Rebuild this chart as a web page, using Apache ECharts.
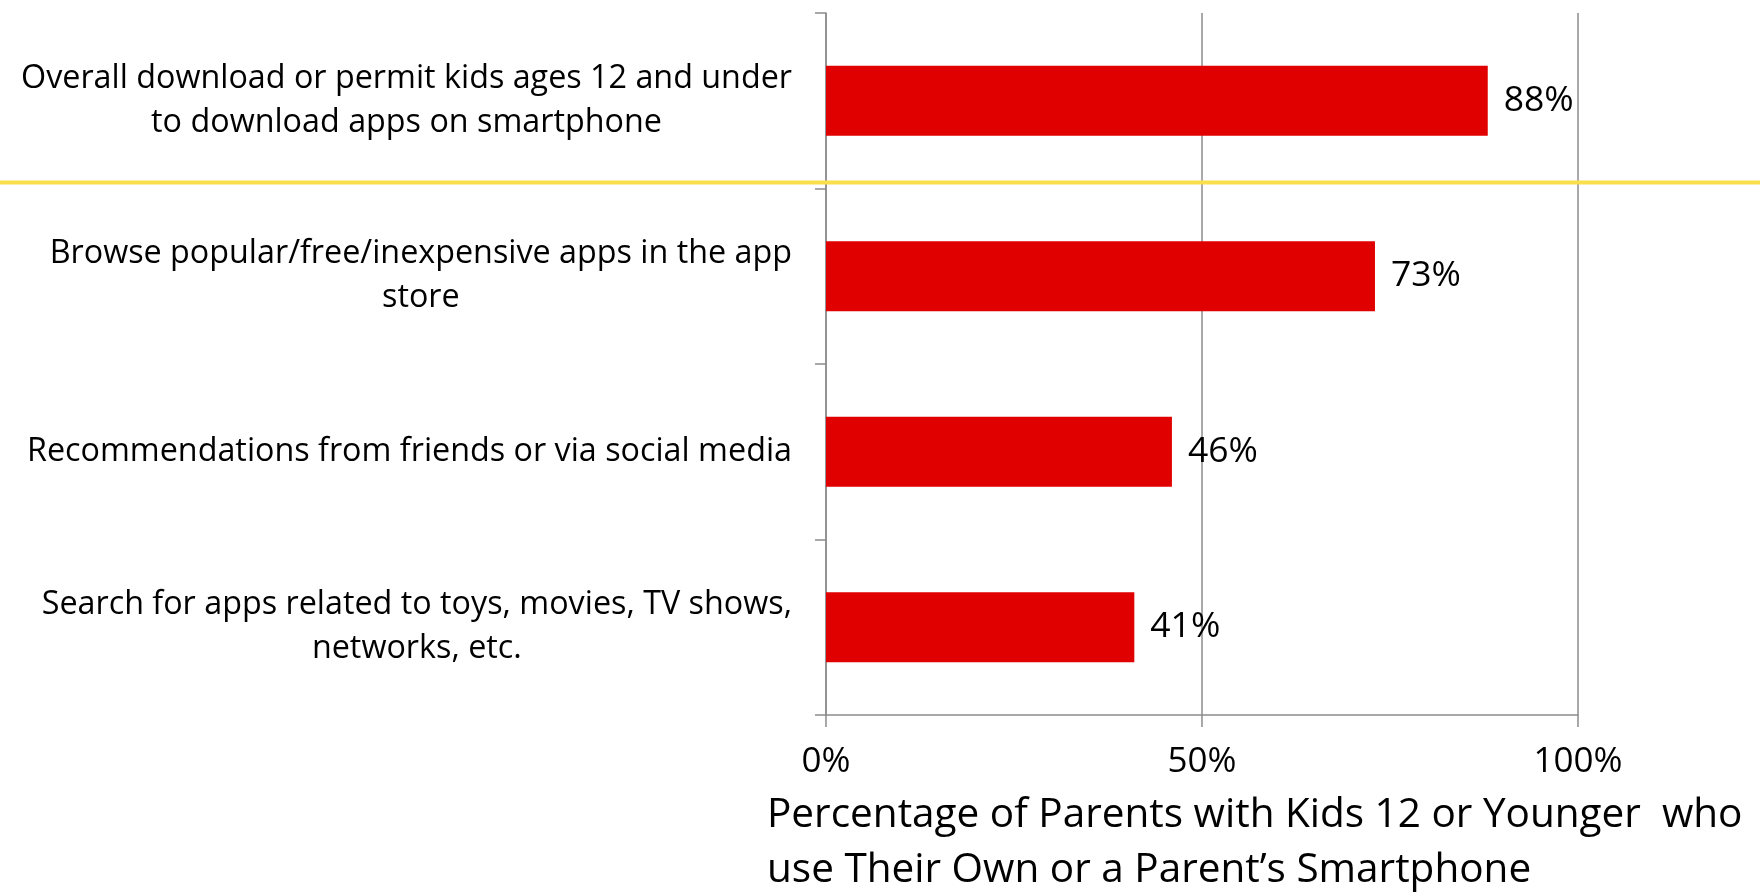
<!DOCTYPE html>
<html>
<head>
<meta charset="utf-8">
<style>
  html, body { margin: 0; padding: 0; background: #ffffff; }
  #chart { width: 1760px; height: 894px; }
</style>
<script src="https://cdn.jsdelivr.net/npm/echarts@6/dist/echarts.min.js"></script>
</head>
<body>
<div id="chart"></div>
<script>
// Ways parents find apps for their kids (share of parents, %)
const categories = [
  'Overall download or permit kids ages 12 and under\nto download apps on smartphone',
  'Browse popular/free/inexpensive apps in the app\nstore',
  'Recommendations from friends or via social media',
  'Search for apps related to toys, movies, TV shows,\nnetworks, etc.'
];
const values = [88, 73, 46, 41];
const xTicks = [0, 50, 100];
const axisTitle = 'Percentage of Parents with Kids 12 or Younger  who\nuse Their Own or a Parent\u2019s Smartphone';

const FONT = '"Open Sans", Lato, sans-serif';
const AXIS_GREY = '#8c8c8c';

const chart = echarts.init(document.getElementById('chart'), null, { renderer: 'canvas' });

// each label's lines are centred within the label block, block right-aligned at the axis
const labelRich = {
  c: { align: 'center', fontSize: 32.3, lineHeight: 44, color: '#000', fontFamily: FONT }
};

chart.setOption({
  backgroundColor: '#ffffff',
  animation: false,
  title: {
    text: axisTitle,
    left: 767,
    top: 788,
    padding: 0,
    textStyle: { fontFamily: FONT, fontSize: 40.5, fontWeight: 'normal', lineHeight: 55, color: '#000' }
  },
  grid: { left: 826, right: 182, top: 13, bottom: 179, containLabel: false },
  xAxis: {
    type: 'value',
    min: xTicks[0],
    max: xTicks[xTicks.length - 1],
    interval: xTicks[1] - xTicks[0],
    axisLine: { show: true, lineStyle: { color: AXIS_GREY, width: 1.5 } },
    axisTick: { show: true, length: 12, lineStyle: { color: AXIS_GREY, width: 1.5 } },
    splitLine: { show: true, lineStyle: { color: AXIS_GREY, width: 1.5 } },
    axisLabel: {
      formatter: '{value}%',
      fontFamily: FONT, fontSize: 35, color: '#000', margin: 30
    }
  },
  yAxis: {
    type: 'category',
    inverse: true,
    data: categories,
    axisLine: { show: true, lineStyle: { color: AXIS_GREY, width: 1.5 } },
    axisTick: { show: true, length: 11, alignWithLabel: false, lineStyle: { color: AXIS_GREY, width: 1.5 } },
    splitLine: { show: false },
    axisLabel: {
      margin: 34,
      formatter: function (v) {
        return v.split('\n').map(function (l) { return '{c|' + l + '}'; }).join('\n');
      },
      rich: labelRich
    }
  },
  series: [{
    type: 'bar',
    data: values,
    barWidth: 70,
    itemStyle: { color: '#e00000' },
    label: {
      show: true,
      position: 'right',
      distance: 16,
      formatter: '{c}%',
      fontFamily: FONT, fontSize: 35.5, color: '#000'
    }
  }]
});

// yellow separator between the overall row and the detailed rows, across the full width
const y0 = chart.convertToPixel({ yAxisIndex: 0 }, 0);
const y1 = chart.convertToPixel({ yAxisIndex: 0 }, 1);
const sepY = (y0 + y1) / 2 - 6;
chart.setOption({
  graphic: [{
    type: 'rect',
    z: 100,
    shape: { x: 0, y: sepY - 2, width: 1760, height: 4 },
    style: { fill: '#f9df4a' },
    silent: true
  }]
});
</script>
</body>
</html>
